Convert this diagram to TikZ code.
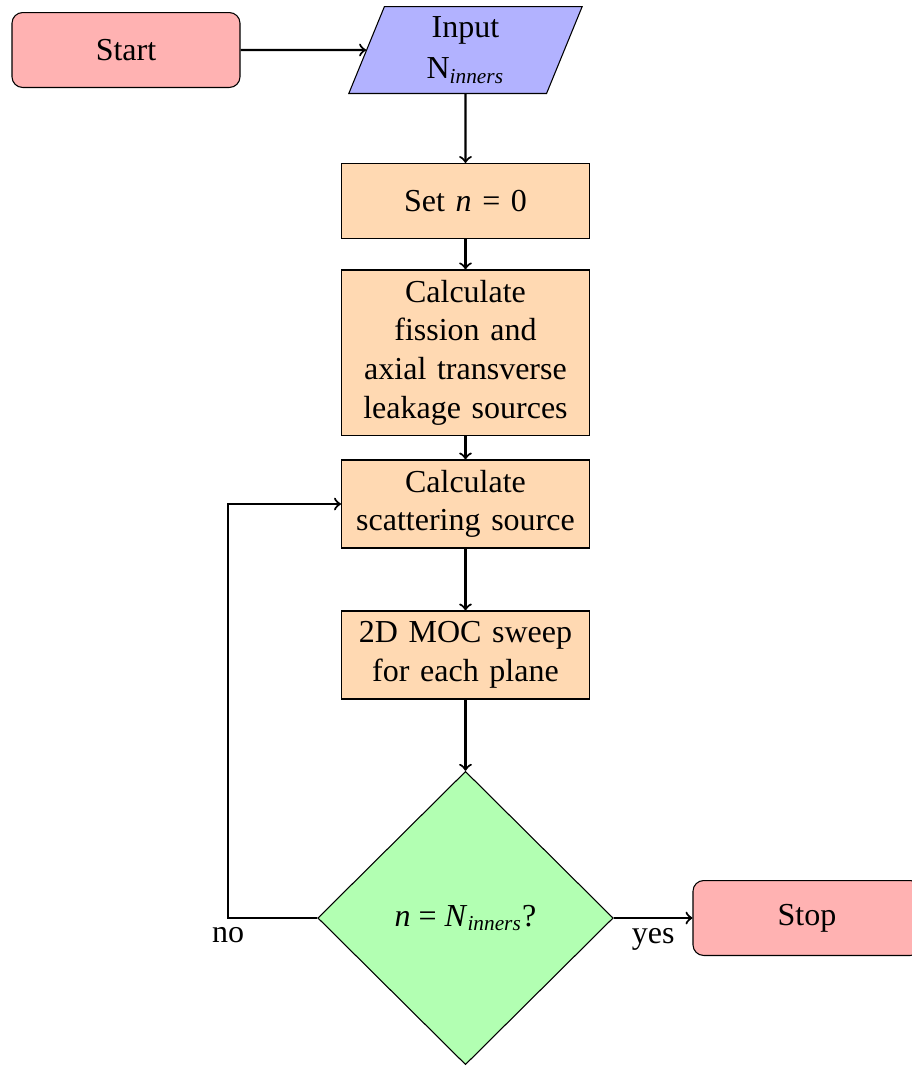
\documentclass[tikz,border=0pt]{standalone}
\usepackage{fontspec}
\setmainfont{Liberation Serif}
\usetikzlibrary{shapes.geometric}
\tikzset{
  base/.style={draw, font=\fontsize{12pt}{14.5pt}\selectfont, align=center, inner sep=2pt},
  term/.style={base, rectangle, rounded corners=4pt, fill=red!30, minimum width=85.5pt, minimum height=28.1pt},
  io/.style={base, trapezium, trapezium left angle=76, trapezium right angle=104, trapezium stretches=true, fill=blue!30, minimum width=87.75pt, minimum height=32.6pt},
  proc/.style={base, rectangle, fill=orange!30, text width=89pt},
  dec/.style={base, diamond, aspect=1, fill=green!30, minimum width=110.8pt, minimum height=110pt},
  conn/.style={thick, ->},
  lbl/.style={font=\fontsize{12pt}{14.5pt}\selectfont, inner sep=3.5pt}
}
\begin{document}
\begin{tikzpicture}[x=0.375pt,y=-0.375pt]
\useasboundingbox (0,0) rectangle (912,1066);
\node[term] (start) at (126,50) {Start};
\node[io] (input) at (465.5,50) {Input\\[1pt]N\textsubscript{\textit{inners}}};
\node[proc, minimum height=28.1pt] (set) at (465.5,201) {Set \textit{n} = 0};
\node[proc, minimum height=61.9pt] (calc) at (465.5,352.5) {Calculate\\fission and\\axial transverse\\leakage sources};
\node[proc, minimum height=33pt] (scat) at (465.5,504) {Calculate\\scattering source};
\node[proc, minimum height=33pt] (moc) at (465.5,655) {2D MOC sweep\\for each plane};
\node[dec] (dec) at (465.5,918) {\textit{n} = \textit{N}\textsubscript{\textit{inners}}?};
\node[term] (stop) at (807,918) {Stop};
\coordinate (nocorner) at (228,918);
\draw[conn] (start) -- (input);
\draw[conn] (input) -- (set);
\draw[conn] (set) -- (calc);
\draw[conn] (calc) -- (scat);
\draw[conn] (scat) -- (moc);
\draw[conn] (moc) -- (dec);
\draw[conn] (dec) -- node[lbl, below] {yes} (stop);
\draw[conn] (dec.west) -- (nocorner) |- (scat.west);
\node[lbl, below] (nolbl) at (nocorner) {no};
\end{tikzpicture}
\end{document}
